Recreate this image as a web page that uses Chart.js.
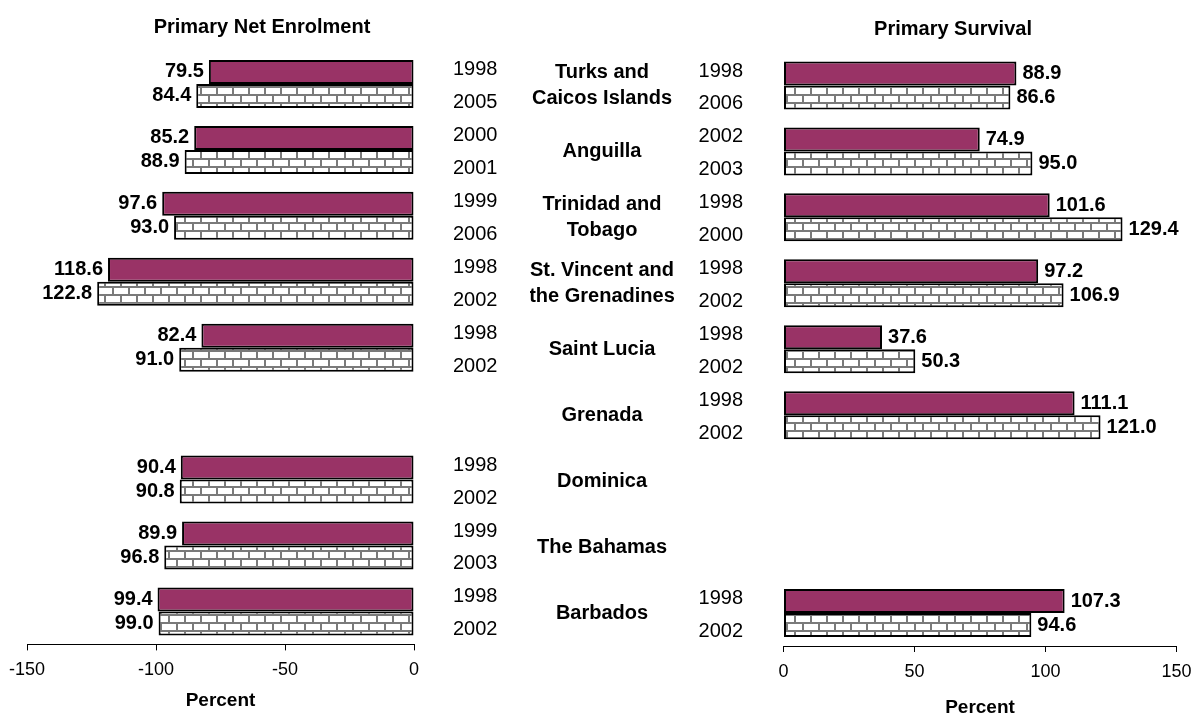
<!DOCTYPE html>
<html>
<head>
<meta charset="utf-8">
<script src="https://cdn.jsdelivr.net/npm/chart.js@4.4.1/dist/chart.umd.min.js"></script>
<style>
  html, body { margin: 0; padding: 0; background: #fff; }
  #page { position: relative; width: 1196px; height: 717px; overflow: hidden; background: #fff; }
  #enrol { position: absolute; left: 0; top: 0; }
  #survival { position: absolute; left: 530px; top: 0; }
</style>
</head>
<body>
<div id="page">
  <canvas id="enrol" width="524" height="717"></canvas>
  <canvas id="survival" width="846" height="717"></canvas>
</div>
<script>
// Countries, top to bottom
const countries = [
  ['Turks and', 'Caicos Islands'],
  'Anguilla',
  ['Trinidad and', 'Tobago'],
  ['St. Vincent and', 'the Grenadines'],
  'Saint Lucia',
  'Grenada',
  'Dominica',
  'The Bahamas',
  'Barbados'
];

// Primary net enrolment (percent): earlier and later observation
const enrolEarlier = [79.5, 85.2, 97.6, 118.6, 82.4, null, 90.4, 89.9, 99.4];
const enrolLater   = [84.4, 88.9, 93.0, 122.8, 91.0, null, 90.8, 96.8, 99.0];
const enrolYearsEarlier = ['1998', '2000', '1999', '1998', '1998', '', '1998', '1999', '1998'];
const enrolYearsLater   = ['2005', '2001', '2006', '2002', '2002', '', '2002', '2003', '2002'];

// Primary survival (percent): earlier and later observation
const survEarlier = [88.9, 74.9, 101.6, 97.2, 37.6, 111.1, null, null, 107.3];
const survLater   = [86.6, 95.0, 129.4, 106.9, 50.3, 121.0, null, null, 94.6];
const survYearsEarlier = ['1998', '2002', '1998', '1998', '1998', '1998', '', '', '1998'];
const survYearsLater   = ['2006', '2003', '2000', '2002', '2002', '2002', '', '', '2002'];

// Axis ticks
const enrolTicks = [-150, -100, -50, 0];
const survTicks = [0, 50, 100, 150];

const FAMILY = "'Liberation Sans', Arial, Helvetica, sans-serif";
const PURPLE = '#993366';
const TEXT_SIZE = 20;

// One year label per bar: earlier year above, later year below
function interleave(a, b) {
  const out = [];
  a.forEach((v, i) => { out.push(v); out.push(b[i]); });
  return out;
}

// White brick fill with grey mortar
function brickPattern() {
  const c = document.createElement('canvas');
  c.width = 16; c.height = 16;
  const g = c.getContext('2d');
  g.fillStyle = '#ffffff';
  g.fillRect(0, 0, 16, 16);
  g.fillStyle = '#7a7a7a';
  g.fillRect(0, 6, 16, 2);
  g.fillRect(0, 14, 16, 2);
  g.fillRect(0, 0, 2, 6);
  g.fillRect(8, 8, 2, 6);
  return g.createPattern(c, 'repeat');
}

// Bold value printed just past the end of each bar
const valueLabels = {
  id: 'valueLabels',
  afterDatasetsDraw(chart, args, opts) {
    const ctx = chart.ctx;
    ctx.save();
    ctx.font = 'bold ' + opts.size + 'px ' + FAMILY;
    ctx.fillStyle = '#000';
    ctx.textBaseline = 'middle';
    chart.data.datasets.forEach((ds, di) => {
      const meta = chart.getDatasetMeta(di);
      meta.data.forEach((bar, i) => {
        const v = ds.data[i];
        if (v === null || v === undefined) return;
        const txt = Math.abs(v).toFixed(1);
        if (v < 0) {
          ctx.textAlign = 'right';
          ctx.fillText(txt, bar.x - opts.gap, bar.y);
        } else {
          ctx.textAlign = 'left';
          ctx.fillText(txt, bar.x + opts.gap, bar.y);
        }
      });
    });
    ctx.restore();
  }
};

const brick = brickPattern();

function barDatasets(first, second) {
  return [
    {
      data: first,
      backgroundColor: PURPLE,
      borderColor: '#000',
      borderWidth: 2,
      borderSkipped: false,
      categoryPercentage: 0.728,
      barPercentage: 1.0
    },
    {
      data: second,
      backgroundColor: brick,
      borderColor: '#000',
      borderWidth: 2,
      borderSkipped: false,
      categoryPercentage: 0.728,
      barPercentage: 1.0
    }
  ];
}

function xAxis(min, max, ticks, height, titleLineHeight, titlePadBottom) {
  return {
    type: 'linear',
    min: min,
    max: max,
    afterBuildTicks: (s) => { s.ticks = ticks.map(v => ({ value: v })); },
    ticks: { color: '#000', padding: 9, font: { family: FAMILY, size: 18 } },
    grid: { drawOnChartArea: false, drawTicks: true, tickLength: 6, color: '#000', lineWidth: 1 },
    border: { display: true, color: '#000', width: 1 },
    title: {
      display: true,
      text: 'Percent',
      color: '#000',
      font: { family: FAMILY, size: 19, weight: 'bold', lineHeight: titleLineHeight },
      padding: { top: 0, bottom: titlePadBottom }
    },
    afterFit: (s) => { s.height = height; }
  };
}

function titleOpts(text) {
  return {
    display: true,
    text: text,
    color: '#000',
    font: { family: FAMILY, size: TEXT_SIZE, weight: 'bold', lineHeight: 1.2 },
    padding: { top: 15.5, bottom: 11.5 }
  };
}

// Empty margin box beside the plot (no ticks, no lines)
function spacerAxis(position, width) {
  return {
    type: 'category',
    position: position,
    labels: countries,
    offset: true,
    grid: { display: false, drawTicks: false },
    border: { display: false },
    ticks: { display: false },
    afterFit: (s) => { s.width = width; }
  };
}

// Left panel: enrolment drawn leftwards from zero
new Chart(document.getElementById('enrol'), {
  type: 'bar',
  data: {
    labels: countries,
    datasets: barDatasets(enrolEarlier.map(v => v === null ? null : -v),
                          enrolLater.map(v => v === null ? null : -v))
  },
  options: {
    indexAxis: 'y',
    responsive: false,
    animation: false,
    layout: { padding: 0 },
    scales: {
      x: xAxis(-150, 0, enrolTicks, 72.6, 1.2, 4.5),
      y: spacerAxis('left', 27),
      yYears: {
        type: 'category',
        position: 'right',
        labels: interleave(enrolYearsEarlier, enrolYearsLater),
        offset: true,
        weight: 0,
        grid: { display: false, drawTicks: false },
        border: { display: false },
        ticks: { autoSkip: false, crossAlign: 'near', padding: 39, labelOffset: 2, color: '#000',
                 font: { family: FAMILY, size: TEXT_SIZE } },
        afterFit: (s) => { s.width = 110; }
      }
    },
    plugins: {
      legend: { display: false },
      tooltip: { enabled: false },
      title: titleOpts('Primary Net Enrolment'),
      valueLabels: { size: TEXT_SIZE, gap: 5 }
    }
  },
  plugins: [valueLabels]
});

// Width of the widest country line, used to centre the names
const measure = document.createElement('canvas').getContext('2d');
measure.font = 'bold ' + TEXT_SIZE + 'px ' + FAMILY;
let widest = 0;
countries.forEach(c => {
  (Array.isArray(c) ? c : [c]).forEach(line => {
    widest = Math.max(widest, measure.measureText(line).width);
  });
});
const countryPad = 88 - widest / 2;

// Right panel: survival drawn rightwards from zero
new Chart(document.getElementById('survival'), {
  type: 'bar',
  data: {
    labels: countries,
    datasets: barDatasets(survEarlier, survLater)
  },
  options: {
    indexAxis: 'y',
    responsive: false,
    animation: false,
    layout: { padding: 0 },
    scales: {
      x: xAxis(0, 150, survTicks, 71, 1.0, 0),
      y: spacerAxis('right', 199.5),
      yYears: {
        type: 'category',
        position: 'left',
        labels: interleave(survYearsEarlier, survYearsLater),
        offset: true,
        weight: 0,
        grid: { display: false, drawTicks: false },
        border: { display: false },
        ticks: { autoSkip: false, crossAlign: 'near', padding: 40.5, labelOffset: 2, color: '#000',
                 font: { family: FAMILY, size: TEXT_SIZE } },
        afterFit: (s) => { s.width = 93.5; }
      },
      yCountry: {
        type: 'category',
        position: 'left',
        labels: countries,
        offset: true,
        weight: 10,
        grid: { display: false, drawTicks: false },
        border: { display: false },
        ticks: { autoSkip: false, crossAlign: 'center', padding: countryPad, color: '#000',
                 font: { family: FAMILY, size: TEXT_SIZE, weight: 'bold', lineHeight: 1.33 } },
        afterFit: (s) => { s.width = 160; }
      }
    },
    plugins: {
      legend: { display: false },
      tooltip: { enabled: false },
      title: titleOpts('Primary Survival'),
      valueLabels: { size: TEXT_SIZE, gap: 6 }
    }
  },
  plugins: [valueLabels]
});
</script>
</body>
</html>
